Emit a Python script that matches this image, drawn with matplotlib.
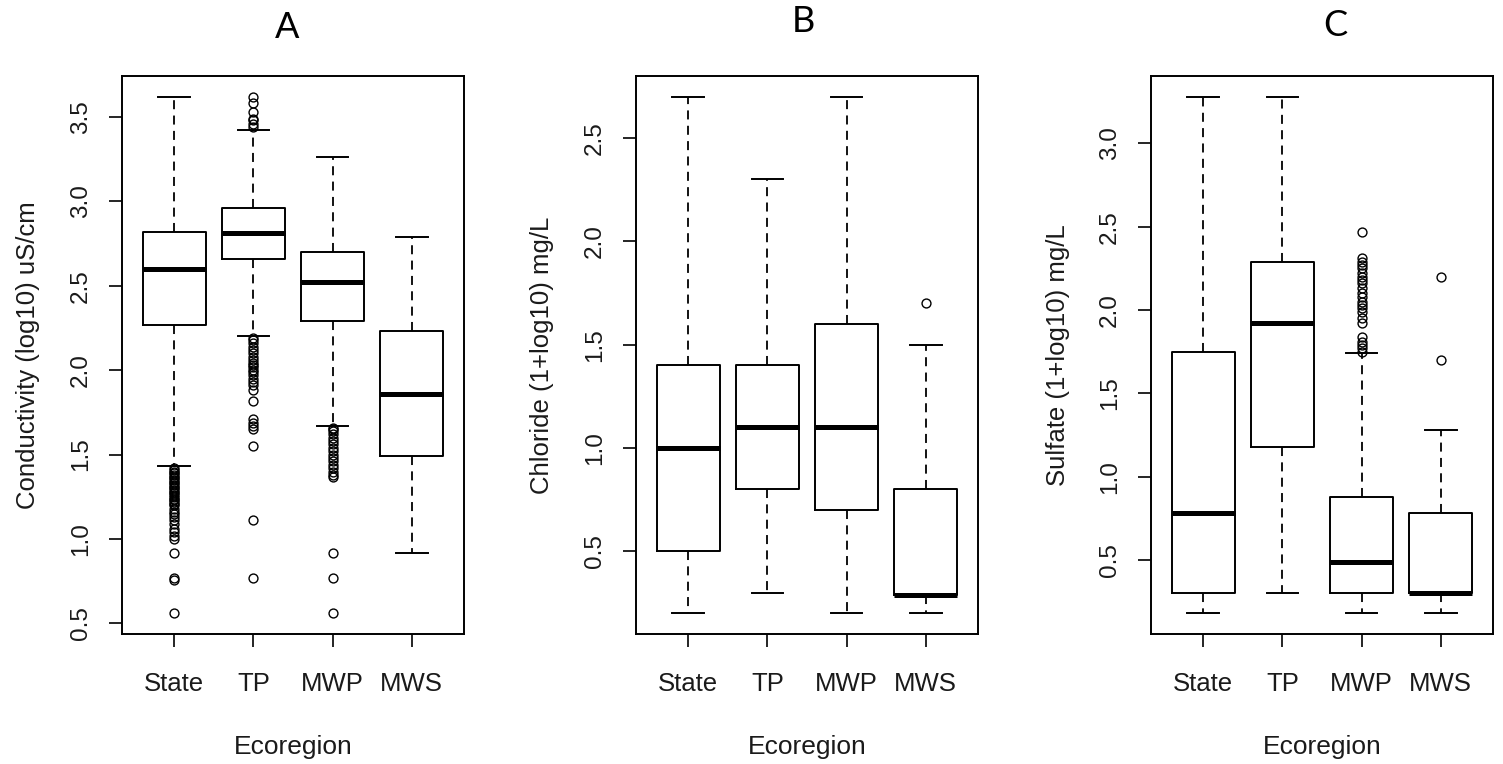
import matplotlib
matplotlib.use('Agg')
import matplotlib.pyplot as plt
from matplotlib.ticker import MultipleLocator, FormatStrFormatter

# Categorias (ecorregioes)
ecorregioes = ['State', 'TP', 'MWP', 'MWS']

# Painel A: condutividade (log10) uS/cm
cond_whislo = [1.43, 2.20, 1.67, 0.92]
cond_q1 = [2.27, 2.66, 2.29, 1.49]
cond_med = [2.60, 2.81, 2.52, 1.86]
cond_q3 = [2.82, 2.96, 2.70, 2.23]
cond_whishi = [3.62, 3.42, 3.26, 2.79]
cond_outliers = [
    [1.42, 1.41, 1.40, 1.39, 1.38, 1.37, 1.36, 1.35, 1.34, 1.33, 1.32, 1.31,
     1.30, 1.29, 1.28, 1.27, 1.26, 1.25, 1.24, 1.23, 1.22, 1.21, 1.20, 1.18,
     1.16, 1.15, 1.13, 1.11, 1.09, 1.06, 1.04, 1.02, 1.00, 0.92, 0.77, 0.76,
     0.56],
    [3.44, 3.46, 3.48, 3.49, 3.53, 3.58, 3.62,
     2.19, 2.18, 2.16, 2.14, 2.12, 2.10, 2.08, 2.06, 2.04, 2.03, 2.02, 2.00,
     1.99, 1.97, 1.95, 1.93, 1.91, 1.88, 1.82, 1.71, 1.69, 1.67, 1.65, 1.55,
     1.11, 0.77],
    [1.66, 1.65, 1.64, 1.62, 1.60, 1.58, 1.56, 1.54, 1.52, 1.50, 1.48, 1.46,
     1.44, 1.42, 1.40, 1.38, 1.37, 0.92, 0.77, 0.56],
    [],
]

# Painel B: cloreto (1+log10) mg/L
clor_whislo = [0.20, 0.30, 0.20, 0.20]
clor_q1 = [0.50, 0.80, 0.70, 0.29]
clor_med = [1.00, 1.10, 1.10, 0.29]
clor_q3 = [1.40, 1.40, 1.60, 0.80]
clor_whishi = [2.70, 2.30, 2.70, 1.50]
clor_outliers = [[], [], [], [1.70]]

# Painel C: sulfato (1+log10) mg/L
sulf_whislo = [0.18, 0.30, 0.18, 0.18]
sulf_q1 = [0.30, 1.18, 0.30, 0.30]
sulf_med = [0.78, 1.92, 0.49, 0.30]
sulf_q3 = [1.75, 2.29, 0.88, 0.78]
sulf_whishi = [3.28, 3.28, 1.74, 1.28]
sulf_outliers = [
    [],
    [],
    [2.47, 2.31, 2.29, 2.27, 2.25, 2.22, 2.20, 2.18, 2.16, 2.13, 2.10, 2.08,
     2.05, 2.03, 2.01, 1.99, 1.95, 1.92, 1.84, 1.81, 1.79, 1.77, 1.75],
    [2.20, 1.70],
]

paineis = [
    ('A', 'Conductivity (log10) uS/cm',
     cond_whislo, cond_q1, cond_med, cond_q3, cond_whishi, cond_outliers),
    ('B', 'Chloride (1+log10) mg/L',
     clor_whislo, clor_q1, clor_med, clor_q3, clor_whishi, clor_outliers),
    ('C', 'Sulfate (1+log10) mg/L',
     sulf_whislo, sulf_q1, sulf_med, sulf_q3, sulf_whishi, sulf_outliers),
]

W, H = 1503, 764
fig = plt.figure(figsize=(W / 100, H / 100), dpi=100)

# posicoes em pixels: (esquerda do eixo, centro do titulo x, y do titulo, centro do rotulo y)
esquerdas = [122, 636, 1151]
titulos_xy = [(287, 27), (803, 22), (1335, 25)]
rotulos_y_x = [28, 542, 1058]
largura, topo, base = 342, 76, 634

cor_texto = '#1a1a1a'
fonte_estreita = ['Liberation Sans Narrow', 'Liberation Sans', 'DejaVu Sans']

for i, (letra, rotulo, wlo, q1, med, q3, whi, outl) in enumerate(paineis):
    ax = fig.add_axes([esquerdas[i] / W, (H - base) / H,
                       largura / W, (base - topo) / H])

    stats = []
    for k, nome in enumerate(ecorregioes):
        stats.append(dict(label=nome, whislo=wlo[k], q1=q1[k], med=med[k],
                          q3=q3[k], whishi=whi[k], fliers=outl[k]))

    ax.bxp(stats, positions=[1, 2, 3, 4], widths=0.8, capwidths=0.4,
           boxprops=dict(color='black', lw=1.4),
           medianprops=dict(color='black', lw=3.6, solid_capstyle='butt'),
           whiskerprops=dict(color='black', lw=1.3, linestyle=(0, (5, 3.5))),
           capprops=dict(color='black', lw=1.4),
           flierprops=dict(marker='o', markerfacecolor='none',
                           markeredgecolor='black', markersize=6.4,
                           markeredgewidth=1.0))

    # limites como no R: 4% de folga
    todos = list(wlo) + list(whi) + [v for lista in outl for v in lista]
    lo, hi = min(todos), max(todos)
    folga = 0.04 * (hi - lo)
    ax.set_ylim(lo - folga, hi + folga)
    ax.set_xlim(0.34, 4.66)

    ax.yaxis.set_major_locator(MultipleLocator(0.5))
    ax.yaxis.set_major_formatter(FormatStrFormatter('%.1f'))
    ax.tick_params(axis='both', length=9.5, width=1.2, color='black')
    ax.tick_params(axis='y', pad=12, labelsize=17.5, labelcolor=cor_texto)
    ax.tick_params(axis='x', pad=18, labelcolor=cor_texto)
    for t in ax.get_yticklabels():
        t.set_rotation(90)
        t.set_va('center')
        t.set_family(['Liberation Sans', 'DejaVu Sans'])
    for t in ax.get_xticklabels():
        t.set_family(fonte_estreita)
        t.set_fontsize(18.5)

    for sp in ax.spines.values():
        sp.set_linewidth(1.4)
        sp.set_color('black')

    tx, ty = titulos_xy[i]
    fig.text(tx / W, 1 - ty / H, letra, ha='center', va='center',
             fontsize=26, family=['Lato', 'DejaVu Sans'], color='black')
    fig.text(rotulos_y_x[i] / W, 1 - ((topo + base) / 2) / H, rotulo,
             rotation=90, ha='center', va='center', fontsize=18.5,
             family=['Liberation Sans', 'DejaVu Sans'], color=cor_texto)
    fig.text((esquerdas[i] + largura / 2) / W, 1 - 747 / H, 'Ecoregion',
             ha='center', va='center', fontsize=19, family=fonte_estreita,
             color=cor_texto)

fig.savefig('out.png', dpi=100)
